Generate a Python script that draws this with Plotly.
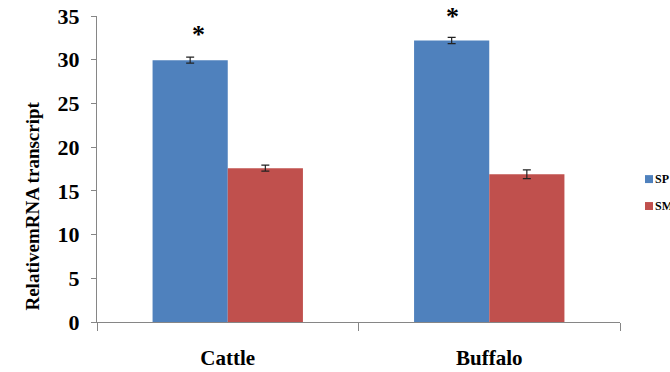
import plotly.graph_objects as go

categories = ["Cattle", "Buffalo"]
sp_values = [29.95, 32.2]
sp_errors = [0.35, 0.35]
sm_values = [17.6, 16.9]
sm_errors = [0.35, 0.5]
series_names = ["SP", "SM"]
series_colors = ["#4F81BD", "#C0504D"]
significance = ["*", "*"]
sig_heights = [33.3, 35.4]
y_title = "RelativemRNA transcript"
y_max = 35

SERIF = "Liberation Serif"

fig = go.Figure()
for name, vals, errs, col in zip(series_names, [sp_values, sm_values], [sp_errors, sm_errors], series_colors):
    fig.add_trace(go.Bar(
        x=categories, y=vals, name=name,
        marker=dict(color=col, line=dict(width=0)),
        error_y=dict(type="data", array=errs, color="#222222", thickness=1.2, width=4),
    ))

for i, (c, s) in enumerate(zip(categories, significance)):
    fig.add_annotation(x=c, y=sig_heights[i] / y_max, yref="paper", text="<b>" + s + "</b>", showarrow=False,
                       xshift=-37 + (8 if i == 0 else 0), yshift=13,
                       font=dict(family=SERIF, size=26, color="black"))

# legend drawn as swatches + labels
leg_y = [0.467, 0.379]
for name, col, ly in zip(series_names, series_colors, leg_y):
    fig.add_shape(type="rect", xref="paper", yref="paper", x0=1.0478, x1=1.0631,
                  y0=ly - 0.013, y1=ly + 0.013, fillcolor=col, line=dict(width=0))
    fig.add_annotation(x=1.0650, y=ly, xref="paper", yref="paper", xanchor="left", yanchor="middle",
                       text="<b>" + name + "</b>", showarrow=False, borderpad=0,
                       font=dict(family=SERIF, size=12, color="black"))

# y-axis title (placed lower than axis centre, as in the original)
fig.add_annotation(x=-0.1472, y=0.379, xref="paper", yref="paper", textangle=-90,
                   text="<b>" + y_title + "</b>", showarrow=False,
                   font=dict(family=SERIF, size=19, color="black"))

fig.update_layout(
    width=670, height=372,
    margin=dict(l=97, r=50, t=16, b=50, autoexpand=False),
    paper_bgcolor="white", plot_bgcolor="white",
    barmode="group", bargap=0.425, bargroupgap=0,
    font=dict(family=SERIF, color="black"),
    showlegend=False,
    xaxis=dict(
        showline=True, linecolor="#868686", linewidth=1, automargin=False,
        ticks="outside", tickson="boundaries", ticklen=8, tickcolor="#868686",
        tickfont=dict(family=SERIF, size=21, color="black", weight="bold"),
        ticklabelstandoff=17, showgrid=False, ticklabeloverflow="allow",
    ),
    yaxis=dict(
        range=[0, y_max], dtick=5, showline=True, linecolor="#868686", linewidth=1, automargin=False,
        ticks="outside", ticklen=5, tickcolor="#868686", showgrid=False, zeroline=False,
        tickfont=dict(family=SERIF, size=22, color="black", weight="bold"),
        ticklabelstandoff=7, ticklabeloverflow="allow",
    ),
)

fig.write_html(
    "out.html",
    config={"displayModeBar": False},
    post_script="document.body.style.margin='0';document.body.style.overflow='hidden';",
)
